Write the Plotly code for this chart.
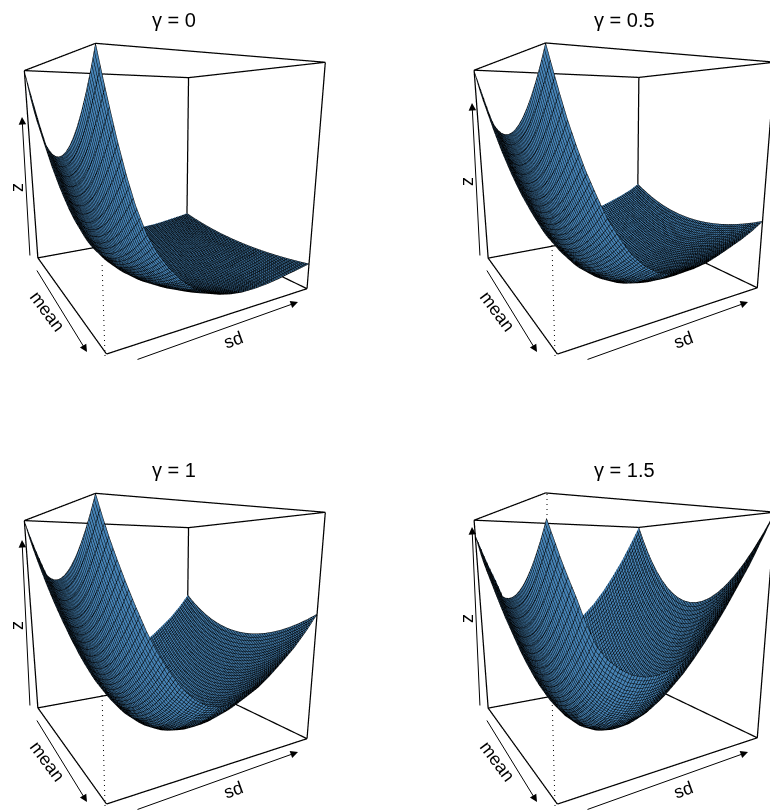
import plotly.graph_objects as go

# Everything below is estimated from the picture: each surface is built from two
# profiles read along sd (the mean = 0 line and the outer mean edge of the box).
gammas = ["0", "0.5", "1", "1.5"]
mean_values = [-1.0, -0.9, -0.8, -0.7, -0.6, -0.5, -0.4, -0.3, -0.2, -0.1, 0.0,
               0.1, 0.2, 0.3, 0.4, 0.5, 0.6, 0.7, 0.8, 0.9, 1.0]
mean_shape = [1.0, 0.81, 0.64, 0.49, 0.36, 0.25, 0.16, 0.09, 0.04, 0.01, 0.0,
              0.01, 0.04, 0.09, 0.16, 0.25, 0.36, 0.49, 0.64, 0.81, 1.0]
sd_values = [0.0, 0.02, 0.04, 0.06, 0.09, 0.12, 0.16, 0.2, 0.25, 0.3, 0.36,
             0.42, 0.48, 0.54, 0.6, 0.67, 0.74, 0.8, 0.87, 0.94, 1.0]

center_0 = [0.62, 0.553, 0.485, 0.418, 0.33, 0.253, 0.176, 0.128, 0.083, 0.05, 0.024,
            0.008, 0.002, 0.0, 0.003, 0.012, 0.024, 0.037, 0.053, 0.068, 0.082]
edge_0 = [1.0, 0.903, 0.811, 0.723, 0.606, 0.506, 0.401, 0.328, 0.258, 0.202, 0.154,
          0.121, 0.1, 0.087, 0.08, 0.08, 0.084, 0.091, 0.102, 0.112, 0.122]
center_05 = [0.71, 0.643, 0.575, 0.513, 0.43, 0.358, 0.276, 0.203, 0.135, 0.08, 0.035,
             0.008, 0.0, 0.003, 0.015, 0.035, 0.063, 0.09, 0.125, 0.168, 0.215]
edge_05 = [1.0, 0.927, 0.856, 0.789, 0.701, 0.622, 0.532, 0.448, 0.368, 0.299, 0.241,
           0.202, 0.183, 0.177, 0.18, 0.191, 0.212, 0.233, 0.258, 0.288, 0.321]
center_1 = [0.73, 0.661, 0.597, 0.538, 0.459, 0.385, 0.297, 0.223, 0.15, 0.09, 0.04,
            0.01, 0.0, 0.005, 0.025, 0.06, 0.115, 0.175, 0.25, 0.335, 0.42]
edge_1 = [1.0, 0.935, 0.875, 0.821, 0.745, 0.674, 0.586, 0.51, 0.432, 0.365, 0.308,
          0.271, 0.255, 0.255, 0.27, 0.3, 0.345, 0.39, 0.445, 0.513, 0.58]
center_15 = [0.655, 0.588, 0.522, 0.46, 0.378, 0.301, 0.215, 0.147, 0.085, 0.04, 0.01,
             0.0, 0.005, 0.025, 0.06, 0.115, 0.19, 0.265, 0.365, 0.475, 0.58]
edge_15 = [0.93, 0.874, 0.818, 0.767, 0.695, 0.615, 0.53, 0.48, 0.44, 0.41, 0.393,
           0.392, 0.405, 0.433, 0.476, 0.538, 0.616, 0.693, 0.79, 0.901, 1.0]

centers = [center_0, center_05, center_1, center_15]
edges = [edge_0, edge_05, edge_1, edge_15]
dotted_end = [262, 245, 243, 245]
z_arrow_head = [117, 103, 90, 77]
z_label_y = [188, 182, 176, 169]

W, H = 770, 812
FONT = "Liberation Sans"
BLUE = "#4682b4"


def profile_table(center, edge):
    return [[c + (e - c) * s for c, e in zip(center, edge)] for s in mean_shape]


def box_lines():
    x0, x1 = sd_values[0], sd_values[-1]
    y0, y1 = mean_values[0], mean_values[-1]
    xs, ys, zs = [], [], []
    for z in (0, 1):
        xs += [x0, x1, x1, x0, x0, None]
        ys += [y0, y0, y1, y1, y0, None]
        zs += [z, z, z, z, z, None]
    for x, y in ((x1, y0), (x1, y1), (x0, y1)):
        xs += [x, x, None]
        ys += [y, y, None]
        zs += [0, 1, None]
    return xs, ys, zs


def arrow(x, y, tail_x, tail_y):
    return dict(x=x / W, y=1 - y / H, xref="paper", yref="paper", axref="pixel", ayref="pixel",
                ax=tail_x - x, ay=tail_y - y, text="", showarrow=True, arrowhead=2,
                arrowwidth=1, arrowsize=1.5, arrowcolor="#000")


def label(x, y, text, angle=0, size=18):
    return dict(x=x / W, y=1 - y / H, xref="paper", yref="paper", text=text, showarrow=False,
                xanchor="center", yanchor="middle", textangle=angle,
                font=dict(family=FONT, size=size, color="#000"))


def dotted(x0, y0, x1, y1):
    return dict(type="line", xref="paper", yref="paper", x0=x0 / W, y0=1 - y0 / H, x1=x1 / W,
                y1=1 - y1 / H, line=dict(color="#000", width=1, dash="1px,4px"))


fig = go.Figure()
annotations = []
shapes = []
blank_axis = dict(visible=False, showgrid=False, zeroline=False, showbackground=False,
                  showspikes=False)
box_x, box_y, box_z = box_lines()

for i, gamma in enumerate(gammas):
    col, row = i % 2, i // 2
    dx, dy = col * 450, row * 450
    scene = "scene" if i == 0 else f"scene{i + 1}"

    fig.add_trace(go.Surface(
        x=sd_values, y=mean_values, z=profile_table(centers[i], edges[i]), scene=scene,
        colorscale=[[0, BLUE], [1, BLUE]], showscale=False, hoverinfo="skip",
        lighting=dict(ambient=1, diffuse=0, specular=0, roughness=1, fresnel=0),
        contours=dict(
            x=dict(show=True, start=0, end=1, size=0.0125, color="#000", width=2, highlight=False),
            y=dict(show=True, start=-1, end=1, size=0.025, color="#000", width=2, highlight=False),
            z=dict(highlight=False),
        ),
    ))
    fig.add_trace(go.Scatter3d(
        x=box_x, y=box_y, z=box_z, mode="lines", scene=scene, hoverinfo="skip",
        line=dict(color="#000", width=2.5), showlegend=False,
    ))

    # fitted camera: the viewport is offset so the fixed 45 degree lens lands on the box
    left = 471 if col else 1.1
    right = 770 if col else 331.1
    top, bottom = 28.4 + dy, 357 + dy
    center = dict(x=-0.0249, y=-0.1394, z=-0.0589) if col else dict(x=-0.0402, y=-0.1302, z=-0.0578)
    fig.update_layout({scene: dict(
        domain=dict(x=[left / W, right / W], y=[1 - bottom / H, 1 - top / H]),
        xaxis=dict(blank_axis, range=[sd_values[0], sd_values[-1]]),
        yaxis=dict(blank_axis, range=[mean_values[0], mean_values[-1]]),
        zaxis=dict(blank_axis, range=[0, 1]),
        aspectmode="manual", aspectratio=dict(x=0.9879, y=1.0169, z=1.0),
        camera=dict(eye=dict(x=-0.9241, y=-1.6515, z=0.322), center=center,
                    up=dict(x=0, y=0, z=1), projection=dict(type="perspective")),
        bgcolor="rgba(0,0,0,0)",
    )})

    annotations.append(label(174 + dx, 20 + dy, f"γ = {gamma}", size=20))
    annotations.append(arrow(22 + dx, z_arrow_head[i] + dy, 30 + dx, 257 + dy))
    annotations.append(label(17 + dx, z_label_y[i] + dy, "z", -90))
    annotations.append(arrow(87 + dx, 352 + dy, 36 + dx, 269 + dy))
    annotations.append(label(47 + dx, 311 + dy, "mean", 53))
    annotations.append(arrow(298 + dx, 302 + dy, 136 + dx, 360 + dy))
    annotations.append(label(233 + dx, 340 + dy, "sd", -20))

    # the front corner edge is dotted and stays behind the surface in the original
    shapes.append(dotted(105 + dx, 356 + dy, 102 + dx, dotted_end[i] + dy))
    if edges[i][0] < 1:
        shapes.append(dotted(97 + dx, 44 + dy, 97 + dx, 65 + dy))

fig.update_layout(
    width=W, height=H, margin=dict(l=0, r=0, t=0, b=0), paper_bgcolor="white",
    showlegend=False, annotations=annotations, shapes=shapes, font=dict(family=FONT),
)
fig.write_html(
    "out.html",
    config=dict(displayModeBar=False),
    post_script="document.body.style.margin='0';document.body.style.overflow='hidden';",
)
